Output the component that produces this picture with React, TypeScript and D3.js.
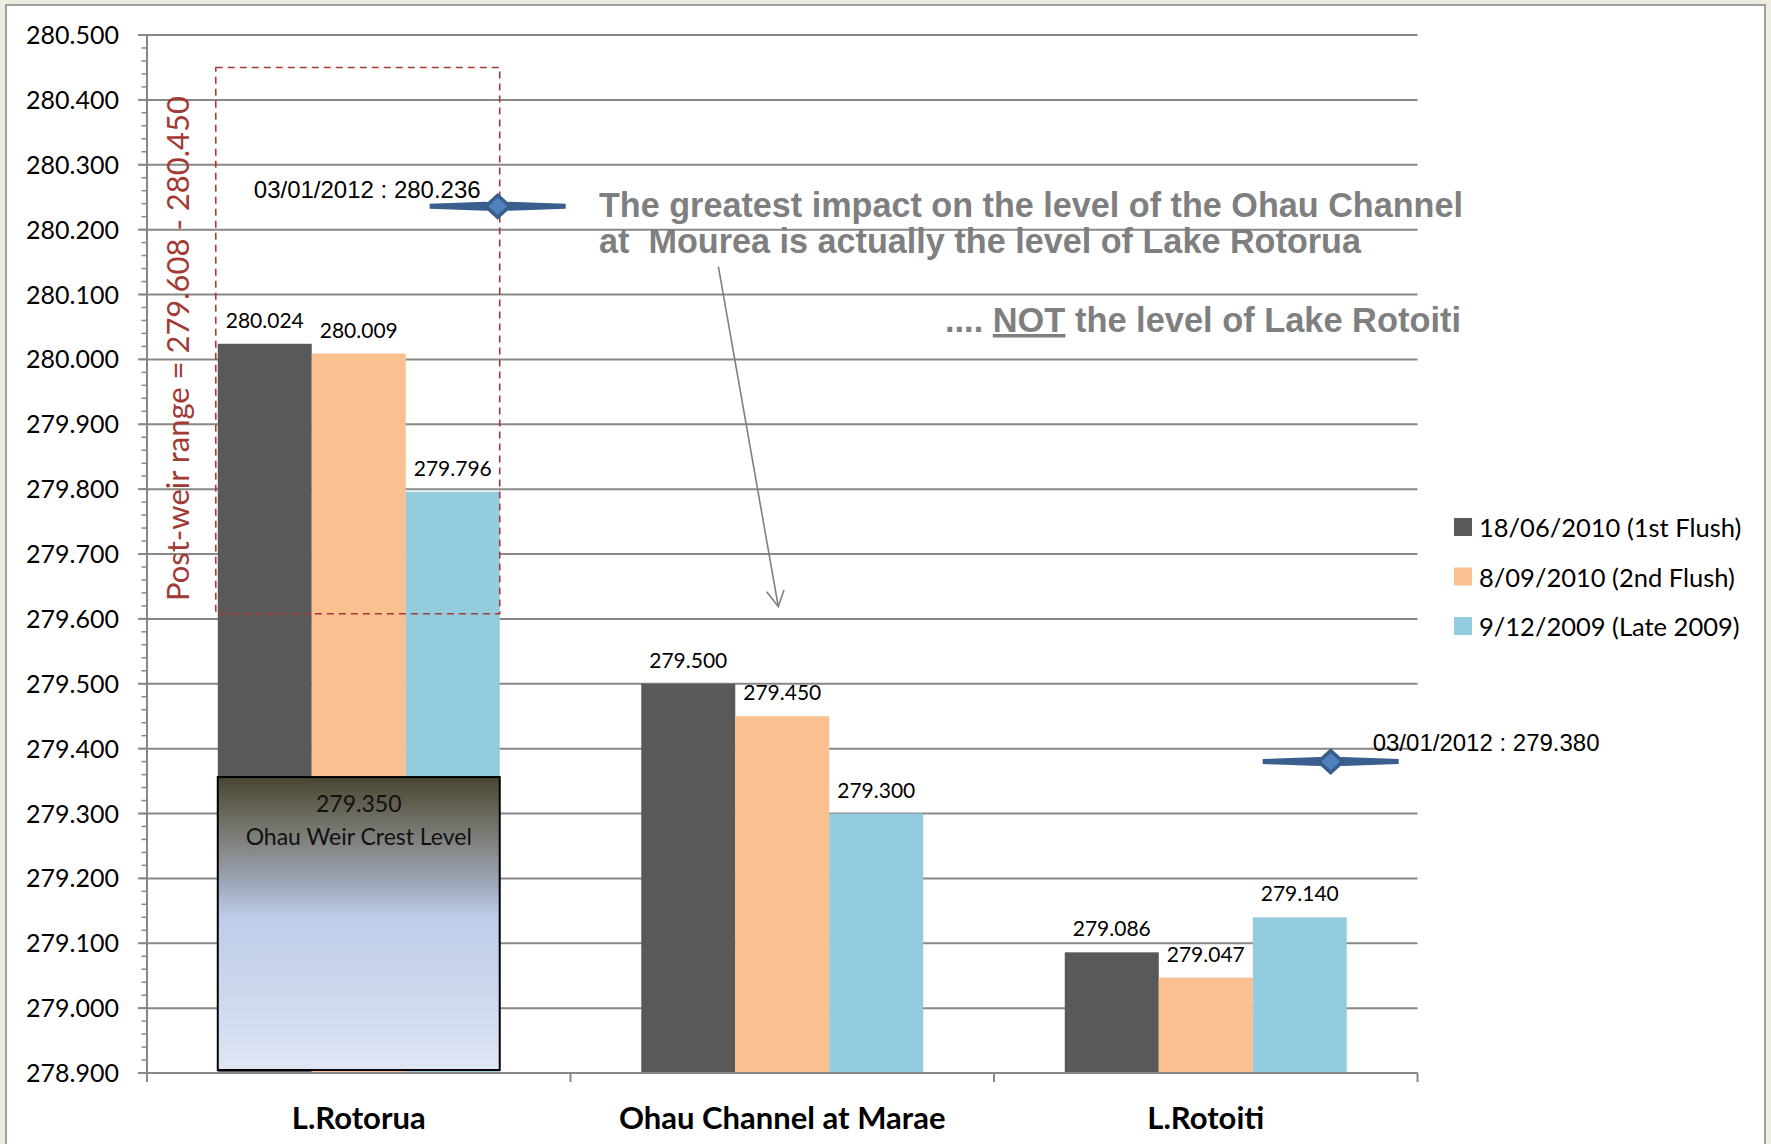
import React from "react";
import * as d3 from "d3";

const categories = ["L.Rotorua", "Ohau Channel at Marae", "L.Rotoiti"];
const seriesNames = ["18/06/2010 (1st Flush)", "8/09/2010 (2nd Flush)", "9/12/2009 (Late 2009)"];
const seriesColors = ["#595959", "#FAC090", "#93CDDD"];
const flush1 = [280.024, 279.5, 279.086];
const flush2 = [280.009, 279.45, 279.047];
const late2009 = [279.796, 279.3, 279.14];
const seriesValues = [flush1, flush2, late2009];
const yTicks = d3.range(0, 17).map((i) => 278.9 + i * 0.1);
const yMinorTicks = d3.range(0, 81).map((i) => 278.9 + i * 0.02);
const markerCats = ["L.Rotorua", "L.Rotoiti"];
const markerValues = [280.236, 279.38];
const markerLabels = ["03/01/2012 : 280.236", "03/01/2012 : 279.380"];
const weirLevel = 279.35;
const postWeirRange = [279.608, 280.45];

const W = 1771;
const H = 1144;
const CAL = "Lato, 'Open Sans', sans-serif";
const ARIAL = "'Liberation Sans', Arial, sans-serif";

export default function App() {
  const y = d3.scaleLinear().domain([278.9, 280.5]).range([1073, 35]);
  const x = d3.scaleBand().domain(categories).range([147, 1417.5]).paddingInner(0).paddingOuter(0);
  const xs = d3.scaleBand().domain(seriesNames).range([0, x.bandwidth()]).paddingInner(0).paddingOuter(0.753);
  const bw = xs.bandwidth();
  const base = y(278.9);
  const gridColor = "#878787";

  const rot0 = x("L.Rotorua")!;
  const boxL = rot0 + xs(seriesNames[0])!;
  const boxR = rot0 + xs(seriesNames[2])! + bw;

  const markerFrac = [0.828, 0.795];

  return (
    <svg width={W} height={H} style={{ position: "absolute", left: 0, top: 0, display: "block" }}>
      <defs>
        <linearGradient id="weirGrad" x1="0" y1="0" x2="0" y2="1">
          <stop offset="0%" stopColor="#4A4530" />
          <stop offset="14%" stopColor="#6E6D62" />
          <stop offset="25%" stopColor="#868A8A" />
          <stop offset="37%" stopColor="#9FA9BC" />
          <stop offset="48%" stopColor="#BFCDEA" />
          <stop offset="75%" stopColor="#CDD8EE" />
          <stop offset="100%" stopColor="#DFE6F4" />
        </linearGradient>
      </defs>
      <rect x={0} y={0} width={W} height={H} fill="#EEECE1" />
      <rect x={6} y={5} width={1759} height={H + 20} fill="#FFFFFF" stroke="#A0A0A0" strokeWidth={2} />

      {/* gridlines */}
      {yTicks.map((t, i) => (
        <line key={"g" + i} x1={147} x2={1417.5} y1={y(t)} y2={y(t)} stroke={gridColor} strokeWidth={2} />
      ))}
      {/* minor ticks */}
      {yMinorTicks.map((t, i) => (
        <line key={"m" + i} x1={141.5} x2={147} y1={y(t)} y2={y(t)} stroke={gridColor} strokeWidth={1.5} />
      ))}
      {yTicks.map((t, i) => (
        <line key={"M" + i} x1={138} x2={147} y1={y(t)} y2={y(t)} stroke={gridColor} strokeWidth={2} />
      ))}
      <line x1={147} x2={147} y1={y(280.5)} y2={base} stroke={gridColor} strokeWidth={2} />
      {yTicks.map((t, i) => (
        <text key={"yl" + i} x={119} y={y(t) + 9} textAnchor="end" fontFamily={CAL} fontSize={25} fill="#000">
          {d3.format(".3f")(t)}
        </text>
      ))}

      {/* bars */}
      {categories.map((c, ci) =>
        seriesNames.map((s, si) => {
          const v = seriesValues[si][ci];
          const bx = x(c)! + xs(s)!;
          return <rect key={c + s} x={bx} y={y(v)} width={bw} height={base - y(v)} fill={seriesColors[si]} />;
        })
      )}
      {/* data labels */}
      {categories.map((c, ci) =>
        seriesNames.map((s, si) => {
          const v = seriesValues[si][ci];
          const bx = x(c)! + xs(s)! + bw / 2;
          return (
            <text key={"dl" + c + s} x={bx} y={y(v) - 16} textAnchor="middle" fontFamily={CAL} fontSize={21} fill="#000">
              {d3.format(".3f")(v)}
            </text>
          );
        })
      )}

      {/* x axis */}
      <line x1={147} x2={1417.5} y1={base} y2={base} stroke={gridColor} strokeWidth={2} />
      {[...categories.map((c) => x(c)!), 1417.5].map((px, i) => (
        <line key={"xt" + i} x1={px} x2={px} y1={base} y2={base + 9} stroke={gridColor} strokeWidth={2} />
      ))}
      {categories.map((c) => (
        <text key={"xl" + c} x={x(c)! + x.bandwidth() / 2} y={1129} textAnchor="middle" fontFamily={CAL} fontWeight="bold" fontSize={31} fill="#000">
          {c}
        </text>
      ))}

      {/* weir crest box */}
      <rect x={boxL} y={y(weirLevel) - 4} width={boxR - boxL} height={base - 3 - y(weirLevel) + 4} fill="url(#weirGrad)" stroke="#000" strokeWidth={2} />
      <text x={(boxL + boxR) / 2} y={y(weirLevel) + 31} textAnchor="middle" fontFamily={CAL} fontSize={23} fill="#111">
        {d3.format(".3f")(weirLevel)}
      </text>
      <text x={(boxL + boxR) / 2} y={y(weirLevel) + 64} textAnchor="middle" fontFamily={CAL} fontSize={23} fill="#111">
        Ohau Weir Crest Level
      </text>

      {/* post-weir range dashed box */}
      <rect
        x={boxL - 2}
        y={y(postWeirRange[1])}
        width={boxR - boxL + 2}
        height={y(postWeirRange[0]) - y(postWeirRange[1])}
        fill="none"
        stroke="#A33A35"
        strokeWidth={1.6}
        strokeDasharray="7,5"
      />
      <text
        transform={`translate(189, ${(y(postWeirRange[0]) + y(postWeirRange[1])) / 2 + 8}) rotate(-90)`}
        textAnchor="middle"
        fontFamily={CAL}
        fontSize={31}
        fill="#A33A35"
        textLength={505}
        lengthAdjust="spacingAndGlyphs"
      >
        {"Post-weir range = 279.608 - 280.450"}
      </text>

      {/* markers */}
      {markerCats.map((c, i) => {
        const mx = x(c)! + x.bandwidth() * markerFrac[i];
        const my = y(markerValues[i]);
        const pts = [
          [mx - 68, my - 2.5],
          [mx - 12, my - 4.5],
          [mx, my - 3],
          [mx + 12, my - 4.5],
          [mx + 68, my - 2.5],
          [mx + 68, my + 2.5],
          [mx + 12, my + 4.5],
          [mx, my + 3],
          [mx - 12, my + 4.5],
          [mx - 68, my + 2.5],
        ]
          .map((p) => p.join(","))
          .join(" ");
        return (
          <g key={"mk" + i}>
            <polygon points={pts} fill="#3A5F8F" />
            <path d={`M${mx - 12},${my} L${mx},${my - 11} L${mx + 12},${my} L${mx},${my + 11} Z`} fill="#4F81BD" stroke="#385D8A" strokeWidth={3.5} />
            {i === 0 ? (
              <text x={mx - 17} y={my - 8} textAnchor="end" fontFamily={ARIAL} fontSize={24} fill="#000">
                {markerLabels[i]}
              </text>
            ) : (
              <text x={mx + 42} y={my - 11} textAnchor="start" fontFamily={ARIAL} fontSize={24} fill="#000">
                {markerLabels[i]}
              </text>
            )}
          </g>
        );
      })}

      {/* annotation */}
      <text x={599} y={217} fontFamily={ARIAL} fontWeight="bold" fontSize={35} fill="#7F7F7F" textLength={864} lengthAdjust="spacingAndGlyphs">
        The greatest impact on the level of the Ohau Channel
      </text>
      <text x={599} y={253} fontFamily={ARIAL} fontWeight="bold" fontSize={35} fill="#7F7F7F" textLength={762} lengthAdjust="spacingAndGlyphs" style={{ whiteSpace: "pre" }}>
        {"at  Mourea is actually the level of Lake Rotorua"}
      </text>
      <text x={945} y={332} fontFamily={ARIAL} fontWeight="bold" fontSize={35} fill="#7F7F7F" textLength={516} lengthAdjust="spacingAndGlyphs">
        {".... "}
        <tspan textDecoration="underline">NOT</tspan>
        {" the level of Lake Rotoiti"}
      </text>
      <line x1={718.4} y1={266.6} x2={778.3} y2={606.7} stroke="#7F7F7F" strokeWidth={1.6} />
      <polyline points="766.7,591.7 778.3,606.7 784,590" fill="none" stroke="#7F7F7F" strokeWidth={1.6} />

      {/* legend */}
      {seriesNames.map((s, i) => (
        <g key={"lg" + i}>
          <rect x={1454} y={518 + i * 49.5} width={18} height={18} fill={seriesColors[i]} />
          <text x={1479} y={537 + i * 49.5} fontFamily={CAL} fontSize={25.5} fill="#000">
            {s}
          </text>
        </g>
      ))}
    </svg>
  );
}
